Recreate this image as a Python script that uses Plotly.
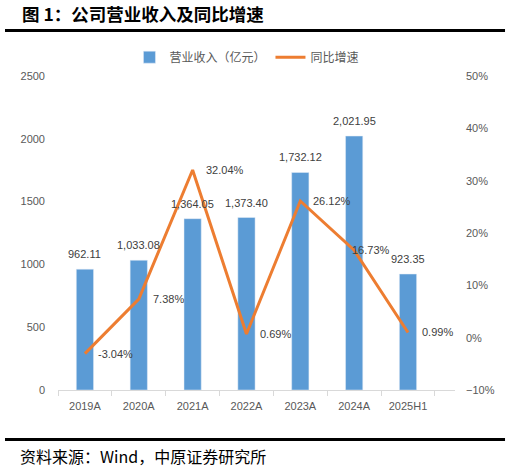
import plotly.graph_objects as go

years = ["2019A", "2020A", "2021A", "2022A", "2023A", "2024A", "2025H1"]
revenue = [962.11, 1033.08, 1364.05, 1373.40, 1732.12, 2021.95, 923.35]
growth = [-3.04, 7.38, 32.04, 0.69, 26.12, 16.73, 0.99]

bar_labels = [f"{v:,.2f}" for v in revenue]
line_labels = [f"{v:.2f}%" for v in growth]
# label nudges (px) for the growth line, 2024A label was pulled onto the point
line_shift = [11, 12, 11, 12, 11, -4, 12]

font_main = "Liberation Sans, Arial"
gray = "#595959"
label_col = "#404040"

fig = go.Figure()

fig.add_trace(go.Bar(
    x=years, y=revenue,
    name="营业收入（亿元）",
    marker_color="#5B9BD5",
))

fig.add_trace(go.Scatter(
    x=years, y=[g / 100 for g in growth],
    name="同比增速",
    mode="lines",
    line=dict(color="#ED7D31", width=3),
    yaxis="y2",
    cliponaxis=False,
))

for yr, v, t in zip(years, revenue, bar_labels):
    fig.add_annotation(x=yr, y=v, xref="x", yref="y", text=t, showarrow=False,
                       yanchor="middle", yshift=15,
                       font=dict(size=11, color=label_col))

for yr, g, t, s in zip(years, growth, line_labels, line_shift):
    fig.add_annotation(x=yr, y=g / 100, xref="x", yref="y2", text=t, showarrow=False,
                       xanchor="left", yanchor="middle", xshift=s,
                       font=dict(size=11, color=label_col))

fig.update_layout(
    width=511, height=471,
    margin=dict(l=58, r=56, t=76, b=81),
    paper_bgcolor="white", plot_bgcolor="white",
    font=dict(family=font_main, size=11, color=gray),
    bargap=0.68,
    showlegend=True,
    legend=dict(orientation="h", x=0.18, xanchor="left", y=1.06, yanchor="middle",
                font=dict(family="Noto Sans CJK SC", size=12, color=gray)),
    xaxis=dict(showgrid=False, showline=True, linecolor="#D9D9D9",
               ticks="outside", tickcolor="#D9D9D9", ticklen=5,
               tickson="boundaries", ticklabelstandoff=6,
               tickfont=dict(size=11, color=gray)),
    yaxis=dict(range=[0, 2500], dtick=500, showgrid=False, zeroline=False,
               showline=False, tickfont=dict(size=11, color=gray),
               ticklabelstandoff=12),
    yaxis2=dict(range=[-0.1, 0.5], dtick=0.1, tickformat=".0%", overlaying="y",
                side="right", showgrid=False, zeroline=False, showline=False,
                tickfont=dict(size=11, color=gray), ticklabelstandoff=10),
)

# title, rules and source note
fig.add_annotation(text="<b>图 1：公司营业收入及同比增速</b>", xref="paper", yref="paper",
                   x=-0.0957, y=1.199, xanchor="left", yanchor="middle", showarrow=False,
                   font=dict(family="Noto Sans CJK SC", size=17.5, color="black"))
fig.add_annotation(text="资料来源：Wind，中原证券研究所", xref="paper", yref="paper",
                   x=-0.1008, y=-0.21, xanchor="left", yanchor="middle", showarrow=False,
                   font=dict(family="Noto Sans CJK SC", size=16, color="black"))
for yy in [1.145, -0.158]:
    fig.add_shape(type="line", xref="paper", yref="paper", x0=-0.1335, x1=1.126,
                  y0=yy, y1=yy, line=dict(color="black", width=3))

# page has a default body margin; drop it so the figure sits at the corner
fig.write_html("out.html", config={"displayModeBar": False},
               post_script="document.body.style.margin='0';")
